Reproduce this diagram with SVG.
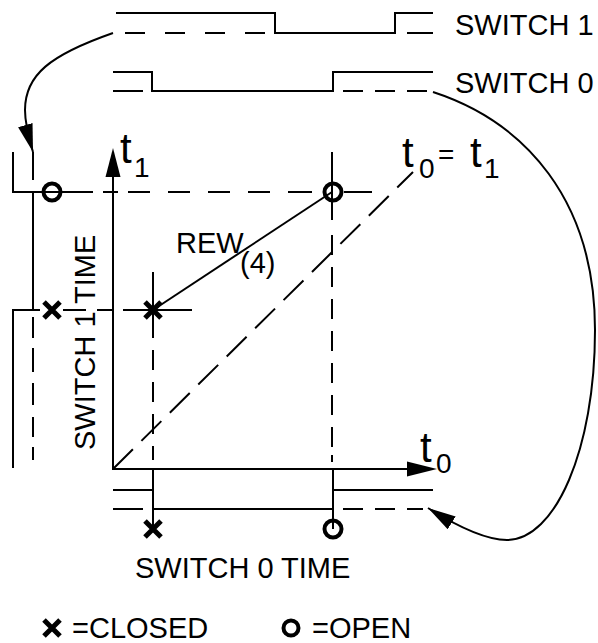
<svg xmlns="http://www.w3.org/2000/svg" width="598" height="643" viewBox="0 0 598 643">
<style>
.s{fill:none;stroke:#000;stroke-width:2}
.d{fill:none;stroke:#000;stroke-width:2}
.dg{fill:none;stroke:#000;stroke-width:2;stroke-dasharray:28 12}
.mk{fill:none;stroke:#000;stroke-width:4}
.x{fill:none;stroke:#000;stroke-width:5}
.t{font-family:"Liberation Sans",Arial,Helvetica,sans-serif;font-size:29px;fill:#000}
.big{font-family:"Liberation Sans",Arial,Helvetica,sans-serif;font-size:42px;fill:#000}
.sub{font-family:"Liberation Sans",Arial,Helvetica,sans-serif;font-size:28px;fill:#000}
</style>
<defs>
<marker id="ah" markerUnits="userSpaceOnUse" markerWidth="30" markerHeight="16" refX="28" refY="7.5" orient="auto">
<path d="M0,0 L28,7.5 L0,15 z" fill="#000"/>
</marker>
</defs>
<rect width="598" height="643" fill="#fff"/>

<g id="switch1-wave">
<path class="s" d="M116,13 H275 V33 H395 V13 H433"/>
<path class="d" d="M125,33 H145 M165,33 H185 M205,33 H225 M245,33 H265 M407,33 H433"/>
<text class="t" x="455" y="35">SWITCH 1</text>
</g>

<g id="switch0-wave">
<path class="s" d="M113,72 H152 V91 H333 V72 H433"/>
<path class="d" d="M113,91 H143 M343,91 H363 M375,91 H395 M407,91 H427"/>
<text class="t" x="455" y="93">SWITCH 0</text>
</g>

<g id="switch1-time-wave">
<path class="s" d="M13,152 V192 H33 V310 H13 V468"/>
<path class="d" d="M33,152 V180 M33,317 V338 M33,348 V372 M33,383 V405 M33,417 V437 M33,447 V460"/>
<text class="t" transform="translate(95,450) rotate(-90)">SWITCH 1 TIME</text>
</g>

<g id="switch0-time-wave">
<path class="s" d="M113,490 H153 V509 H333 V490 H433"/>
<path class="d" d="M113,509 H143 M343,509 H363 M375,509 H395 M407,509 H423"/>
<path class="s" d="M153,469 V529 M333,469 V529"/>
<text class="t" x="135" y="578">SWITCH 0 TIME</text>
</g>

<g id="axes">
<path class="s" d="M113,175 V469 H410"/>
<path d="M113,148 L120.5,177 L105.5,177 z" fill="#000"/>
<path d="M437,469 L407,476.5 L407,461.5 z" fill="#000"/>
<text class="big" x="120" y="163">t</text>
<text class="sub" x="134" y="177">1</text>
<text class="big" x="420" y="462">t</text>
<text class="sub" x="436" y="473">0</text>
</g>

<g id="guides">
<path class="s" d="M33,192 H93 M103,192 H118 M128,192 H150 M168,192 H190 M208,192 H230 M248,192 H270 M288,192 H312 M344,192 H372"/>
<path class="s" d="M332,152 V220 M332,235 V255 M332,267 V287 M332,299 V319 M332,331 V351 M332,363 V383 M332,395 V415 M332,427 V447 M332,455 V462"/>
<path class="s" d="M153,272 V338 M153,350 V370 M153,382 V402 M153,414 V434 M153,446 V460"/>
<path class="s" d="M33,310 H40 M63,310 H86 M97,310 H112 M123,310 H192"/>
<line class="dg" x1="113" y1="469" x2="413" y2="172"/>
</g>

<g id="rew">
<line class="s" x1="153" y1="310" x2="332" y2="192"/>
<text class="t" x="176" y="253">REW</text>
<text class="t" x="240" y="273">(4)</text>
</g>

<g id="diag-label">
<text class="big" x="402" y="167">t</text>
<text class="sub" x="419" y="178">0</text>
<text class="sub" x="438" y="164">=</text>
<text class="big" x="470" y="167">t</text>
<text class="sub" x="484" y="178">1</text>
</g>

<g id="marks">
<circle class="mk" cx="52" cy="192" r="8.5" fill="#fff"/>
<circle class="mk" cx="333" cy="192" r="8.5" fill="#fff"/>
<circle class="mk" cx="333" cy="529" r="8.5" fill="#fff"/>
<path class="x" d="M44,302 L60,318 M60,302 L44,318"/>
<path class="x" d="M145,302 L161,318 M161,302 L145,318"/>
<path class="x" d="M145,521 L161,537 M161,521 L145,537"/>
</g>

<g id="legend">
<path class="x" d="M44,620 L60,636 M60,620 L44,636"/>
<text class="t" x="72" y="638">=CLOSED</text>
<circle class="mk" cx="291" cy="628" r="7.5" fill="#fff"/>
<text class="t" x="312" y="638">=OPEN</text>
</g>

<g id="connectors">
<path class="s" d="M113,33 C50,55 25,75 25,110 C25,125 29,138 33,152" marker-end="url(#ah)"/>
<path class="s" d="M433,92 C525,122 595,200 595,330 C595,450 555,540 507,540 C485,540 455,525 428,508" marker-end="url(#ah)"/>
</g>
</svg>
